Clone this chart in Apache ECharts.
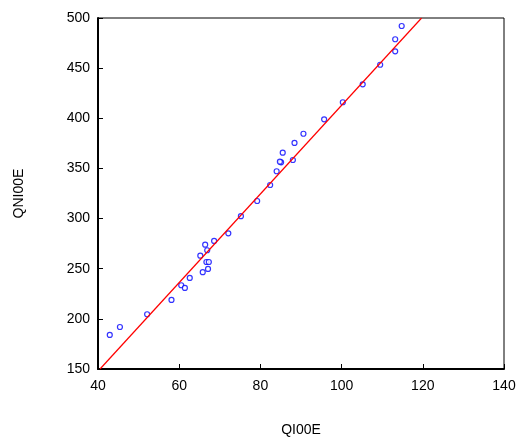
<!DOCTYPE html><html><head><meta charset="utf-8"><script src="https://cdn.jsdelivr.net/npm/echarts@6/dist/echarts.min.js"></script></head><body style="margin:0"><div id="c" style="width:520px;height:437px"></div><script>
const qi00e=[42.9,45.4,52.1,58.1,60.5,61.4,62.6,65.8,67.1,66.7,67.3,65.2,66.9,66.4,68.6,72.1,75.2,79.2,82.4,84.0,85.1,84.8,88.0,85.5,88.4,90.6,95.7,100.3,105.2,109.5,113.2,113.2,114.8];
const qni00e=[184.0,191.9,204.6,218.9,233.5,230.8,240.8,246.5,249.8,256.7,256.7,263.0,268.4,274.0,277.7,285.3,302.4,317.5,333.5,347.2,356.1,356.7,358.4,365.7,375.4,384.6,399.0,416.0,433.9,453.4,466.8,478.8,492.0];
const fitX=[40.5,119.7], fitY=[150,500];
const xTicks=[40,60,80,100,120,140], yTicks=[150,200,250,300,350,400,450,500];
const ch=echarts.init(document.getElementById('c'));
const ax={color:'#000',fontSize:14,fontFamily:'Liberation Sans'};
ch.setOption({animation:false,
grid:{left:98,right:16,top:18,bottom:68,show:true,borderColor:'#000',borderWidth:1,outerBoundsMode:'none',containLabel:false},
xAxis:{type:'value',min:40,max:140,interval:20,name:'QI00E',nameLocation:'middle',nameGap:54,nameTextStyle:ax,
 axisLine:{lineStyle:{color:'#000',width:2}},axisTick:{inside:true,length:5,lineStyle:{color:'#000'}},axisLabel:Object.assign({margin:10},ax),splitLine:{show:false}},
yAxis:{type:'value',min:150,max:500,interval:50,name:'QNI00E',nameLocation:'middle',nameGap:72,nameTextStyle:ax,
 axisLine:{lineStyle:{color:'#000',width:2}},axisTick:{inside:true,length:5,lineStyle:{color:'#000'}},axisLabel:ax,splitLine:{show:false}},
series:[
{type:'line',data:fitX.map((x,i)=>[x,fitY[i]]),showSymbol:false,lineStyle:{color:'#ff0000',width:1.2},clip:true},
{type:'scatter',data:qi00e.map((x,i)=>[x,qni00e[i]]),symbol:'circle',symbolSize:5,itemStyle:{color:'#fff',borderColor:'#0000ff',borderWidth:1.2}}
]});
</script></body></html>
